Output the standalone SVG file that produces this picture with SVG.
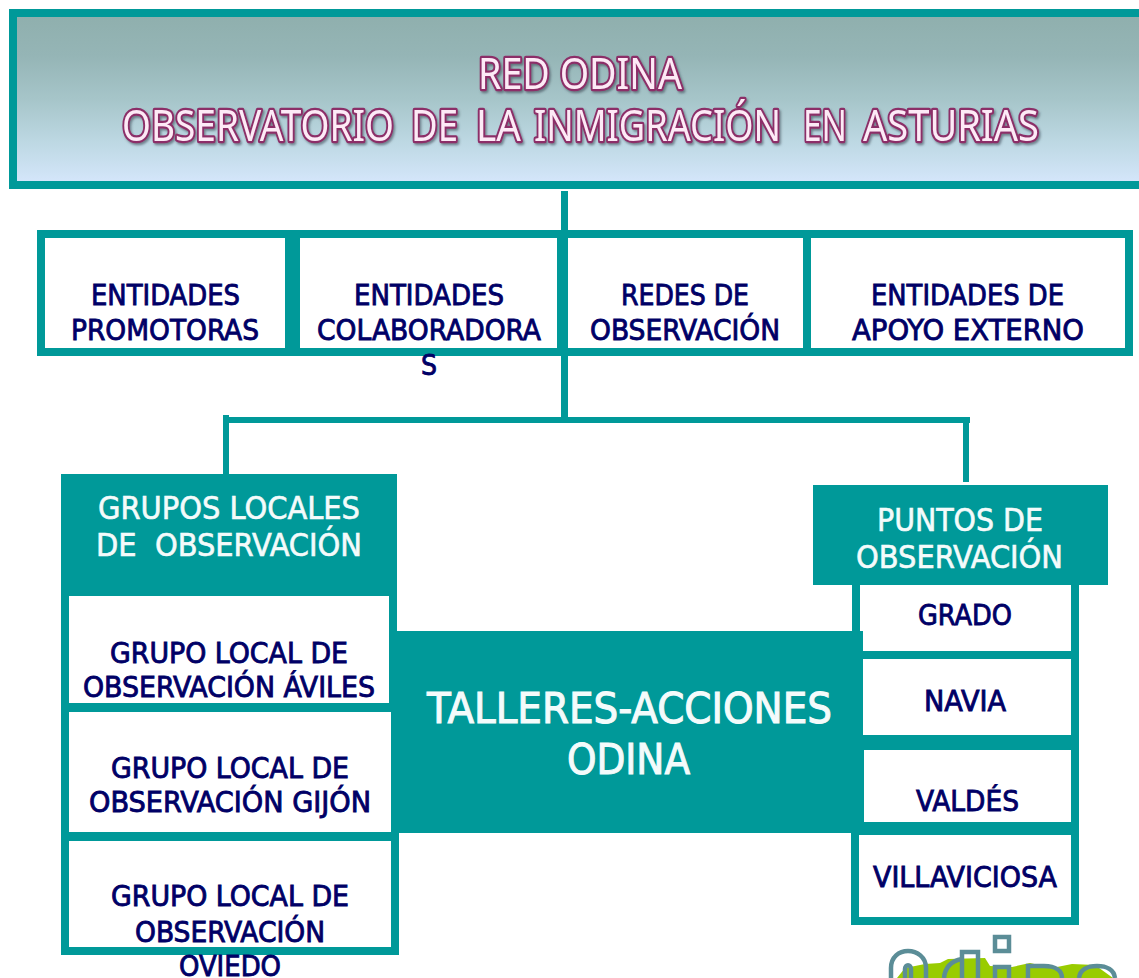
<svg xmlns="http://www.w3.org/2000/svg" width="1139" height="978" viewBox="0 0 1139 978">
<style>
.box{fill:#fff;stroke:#009999;stroke-width:8}
.solid{fill:#009999}
.t{font-family:"DejaVu Sans Condensed","DejaVu Sans","Liberation Sans",sans-serif}
.n{font-size:28px;fill:#000066;stroke:#000066;stroke-width:.8}
.w{font-size:31.500px;fill:#f4fbfb;stroke:#f4fbfb;stroke-width:.6}
.l{font-size:43px;fill:#f4fbfb;stroke:#f4fbfb;stroke-width:1}
.h{font-family:"Noto Sans","Liberation Sans",sans-serif;font-size:44px;fill:#fdeaf6;stroke:#8c2f68;stroke-width:4.500;paint-order:stroke;stroke-linejoin:round;filter:url(#sh)}
.c{fill:#009999}
.lg{fill:none;stroke:#5b8d97;stroke-width:4.500}
</style>
<defs>
<linearGradient id="hd" x1="0" y1="0" x2="0" y2="1">
<stop offset="0" stop-color="#8fafad"/><stop offset="0.25" stop-color="#95b5b6"/><stop offset="0.5" stop-color="#a6c5c9"/><stop offset="0.75" stop-color="#bdd8e3"/><stop offset="1" stop-color="#d6e7fc"/>
</linearGradient>
<filter id="sh" x="-5%" y="-20%" width="110%" height="140%"><feDropShadow dx="1.500" dy="2" stdDeviation="1.200" flood-color="#3c4a55" flood-opacity="0.6"/></filter>
</defs>
<rect width="1139" height="978" fill="#fff"/>
<g id="logo">
<path fill="#99cc00" d="M897 978L905 968L925 964L940 963L948 959L985 958L990 966L1012 967L1030 963L1052 968L1072 964L1095 965L1113 978Z"/>
<path class="lg" d="M891 978V968C891 957 899 951 908 951C917 951 926 957 926 968V978M905 978V969C905 964 911 964 911 969V978"/>
<path class="lg" d="M944 978C945 968 951 961 962 959"/>
<path class="lg" d="M962 978V952H978V978"/>
<rect class="lg" x="995" y="937" width="14" height="14"/>
<path class="lg" d="M995 978V967H1009V978"/>
<path class="lg" d="M1028 978V966H1044C1056 966 1062 971 1062 978"/>
<path class="lg" d="M1079 978C1080 970 1087 966 1097 966C1107 966 1114 970 1115 978"/>
</g>
<g id="connectors">
<rect class="c" x="561" y="191" width="7" height="226"/>
<rect class="c" x="223" y="417" width="747" height="6"/>
<rect class="c" x="223" y="415" width="6" height="60"/>
<rect class="c" x="963" y="423" width="6" height="59"/>
</g>
<g id="header">
<rect x="13" y="13" width="1140" height="172" fill="url(#hd)" stroke="#009999" stroke-width="8"/>
<text class="h" x="478" y="89" textLength="204" lengthAdjust="spacingAndGlyphs">RED ODINA</text>
<text class="h" y="141"><tspan x="122" textLength="272" lengthAdjust="spacingAndGlyphs">OBSERVATORIO</tspan> <tspan x="411" textLength="47" lengthAdjust="spacingAndGlyphs">DE</tspan> <tspan x="476" textLength="45" lengthAdjust="spacingAndGlyphs">LA</tspan> <tspan x="534" textLength="247" lengthAdjust="spacingAndGlyphs">INMIGRACIÓN</tspan> <tspan x="803" textLength="44" lengthAdjust="spacingAndGlyphs">EN</tspan> <tspan x="863" textLength="176" lengthAdjust="spacingAndGlyphs">ASTURIAS</tspan></text>
</g>
<g id="entidades-promotoras">
<rect class="box" x="41" y="234" width="248" height="118"/>
<text class="t n" x="91" y="305" textLength="149" lengthAdjust="spacingAndGlyphs">ENTIDADES</text>
<text class="t n" x="71" y="340" textLength="188" lengthAdjust="spacingAndGlyphs">PROMOTORAS</text>
</g>
<g id="entidades-colaboradoras">
<rect class="box" x="296" y="234" width="265" height="118"/>
<text class="t n" x="354" y="305" textLength="150" lengthAdjust="spacingAndGlyphs">ENTIDADES</text>
<text class="t n" x="317" y="340" textLength="224" lengthAdjust="spacingAndGlyphs">COLABORADORA</text>
<text class="t n" x="429" y="375" text-anchor="middle">S</text>
</g>
<g id="redes-observacion">
<rect class="box" x="564" y="234" width="243" height="118"/>
<text class="t n" x="621" y="305" textLength="128" lengthAdjust="spacingAndGlyphs">REDES DE</text>
<text class="t n" x="590" y="340" textLength="190" lengthAdjust="spacingAndGlyphs">OBSERVACIÓN</text>
</g>
<g id="entidades-apoyo">
<rect class="box" x="807" y="234" width="322" height="118"/>
<text class="t n" x="871" y="305" textLength="193" lengthAdjust="spacingAndGlyphs">ENTIDADES DE</text>
<text class="t n" x="852" y="340" textLength="232" lengthAdjust="spacingAndGlyphs">APOYO EXTERNO</text>
</g>
<g id="grupo-aviles">
<rect class="box" x="65" y="592" width="328" height="115"/>
<text class="t n" x="110" y="663" textLength="238" lengthAdjust="spacingAndGlyphs">GRUPO LOCAL DE</text>
<text class="t n" x="83" y="697" textLength="292" lengthAdjust="spacingAndGlyphs">OBSERVACIÓN ÁVILES</text>
</g>
<g id="grupo-gijon">
<rect class="box" x="65" y="708" width="330" height="128"/>
<text class="t n" x="111" y="778" textLength="238" lengthAdjust="spacingAndGlyphs">GRUPO LOCAL DE</text>
<text class="t n" x="89" y="812" textLength="282" lengthAdjust="spacingAndGlyphs">OBSERVACIÓN GIJÓN</text>
</g>
<g id="grupo-oviedo">
<rect class="box" x="65" y="837" width="330" height="114"/>
<text class="t n" x="111" y="906" textLength="238" lengthAdjust="spacingAndGlyphs">GRUPO LOCAL DE</text>
<text class="t n" x="135" y="942" textLength="190" lengthAdjust="spacingAndGlyphs">OBSERVACIÓN</text>
<text class="t n" x="179" y="976" textLength="102" lengthAdjust="spacingAndGlyphs">OVIEDO</text>
</g>
<g id="grupos-locales">
<rect class="solid" x="61" y="474" width="336" height="122"/>
<text class="t w" x="98" y="519" textLength="262" lengthAdjust="spacingAndGlyphs">GRUPOS LOCALES</text>
<text class="t w" x="96" y="556" textLength="266" lengthAdjust="spacingAndGlyphs" xml:space="preserve">DE  OBSERVACIÓN</text>
</g>
<g id="grado">
<rect class="box" x="856" y="581" width="219" height="74"/>
<text class="t n" x="918" y="625" textLength="94" lengthAdjust="spacingAndGlyphs">GRADO</text>
</g>
<g id="navia">
<rect class="box" x="859" y="655" width="216" height="84"/>
<text class="t n" x="924" y="711" textLength="82" lengthAdjust="spacingAndGlyphs">NAVIA</text>
</g>
<g id="valdes">
<rect class="box" x="860" y="746" width="215" height="80"/>
<text class="t n" x="916" y="811" textLength="103" lengthAdjust="spacingAndGlyphs">VALDÉS</text>
</g>
<g id="villaviciosa">
<rect class="box" x="855" y="831" width="220" height="90"/>
<text class="t n" x="873" y="887" textLength="184" lengthAdjust="spacingAndGlyphs">VILLAVICIOSA</text>
</g>
<g id="puntos-observacion">
<rect class="solid" x="813" y="485" width="295" height="100"/>
<text class="t w" x="877" y="531" textLength="166" lengthAdjust="spacingAndGlyphs">PUNTOS DE</text>
<text class="t w" x="856" y="568" textLength="207" lengthAdjust="spacingAndGlyphs">OBSERVACIÓN</text>
</g>
<g id="talleres">
<rect class="solid" x="397" y="631" width="466" height="202"/>
<text class="t l" x="427" y="723" textLength="405" lengthAdjust="spacingAndGlyphs">TALLERES-ACCIONES</text>
<text class="t l" x="567" y="774" textLength="123" lengthAdjust="spacingAndGlyphs">ODINA</text>
</g>
</svg>
